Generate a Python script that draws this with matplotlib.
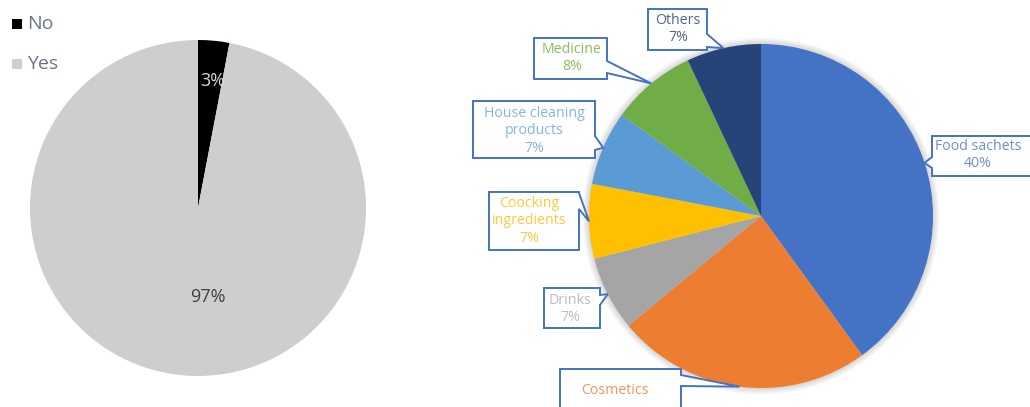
import matplotlib
matplotlib.use('Agg')
import matplotlib.pyplot as plt
from matplotlib.patches import Polygon, Rectangle, Circle
import numpy as np

plt.rcParams['font.family'] = ['Open Sans', 'DejaVu Sans']

# ---- data ----
answers = ['No', 'Yes']
answer_pct = [3, 97]
answer_colors = ['#000000', '#d0cecd']

uses = ['Food sachets', 'Cosmetics', 'Drinks', 'Coocking\ningredients',
        'House cleaning\nproducts', 'Medicine', 'Others']
use_pct = [40, 24, 7, 7, 7, 8, 7]
use_colors = ['#4472C4', '#ED7D31', '#A5A5A5', '#FFC000', '#5B9BD5', '#70AD47', '#264478']
use_text_colors = ['#6f8fcc', '#f0965a', '#bdbdbd', '#ffc93a', '#84b4e2', '#8cbd5e', '#52638f']

W, H = 1030, 407
fig = plt.figure(figsize=(W / 100, H / 100), dpi=100)
ax = fig.add_axes([0, 0, 1, 1])


def P(x, y):
    return (x, H - y)


# ---- left pie ----
c1 = P(198, 208)
r1 = 168
ax.pie(answer_pct, colors=answer_colors, startangle=90, counterclock=False,
       center=c1, radius=r1, frame=True, wedgeprops=dict(linewidth=0))
ax.text(*P(213, 81), f"{answer_pct[0]}%", color='#d9d9d9', fontsize=13,
        ha='center', va='center')
ax.text(*P(208, 297), f"{answer_pct[1]}%", color='#404040', fontsize=13,
        ha='center', va='center')

# legend
for i, (lab, col) in enumerate(zip(answers, answer_colors)):
    yc = 24 + 40 * i
    ax.add_patch(Rectangle(P(12, yc + 5), 10, 10, facecolor=col, edgecolor='none'))
    ax.text(*P(27, yc), lab, color='#6b7489', fontsize=14, ha='left', va='center')

# ---- right pie ----
c2 = P(761, 216)
r2 = 172
for i in range(7):
    ax.add_patch(Circle(c2, r2 + 0.5 + i * 1.0, facecolor='#000000', alpha=0.025,
                        edgecolor='none', zorder=0))
wedges, _ = ax.pie(use_pct, colors=use_colors, startangle=90, counterclock=False,
                   center=c2, radius=r2, frame=True, wedgeprops=dict(linewidth=0))

# callout layout: box (x0,y0,x1,y1), side, base (ya,yb), text center
layout = {
    'Food sachets': ((932, 136, 1034, 176), 'left', (157, 168), (978, 155)),
    'Cosmetics': ((560, 369, 681, 432), 'right', (375, 386), (615, 390)),
    'Drinks': ((544, 288, 600, 328), 'right', (295, 305), (570, 309)),
    'Coocking\ningredients': ((489, 192, 579, 250), 'right', (193, 209), (529, 221)),
    'House cleaning\nproducts': ((473, 101, 595, 158), 'right', (136, 150), (534, 131)),
    'Medicine': ((534, 38, 607, 79), 'right', (61, 73), (572, 58)),
    'Others': ((648, 9, 707, 50), 'right', (34, 47), (678, 29)),
}
# the bottom callout is cut by the figure edge, only its first line is visible
cut_off = {'Cosmetics'}

total = sum(use_pct)
cum = 0
for name, pct, tcol in zip(uses, use_pct, use_text_colors):
    mid = (cum + pct / 2) / total * 360
    cum += pct
    th = np.deg2rad(mid)
    tip = (c2[0] + r2 * np.sin(th), c2[1] + r2 * np.cos(th))
    (x0, y0, x1, y1), side, (ya, yb), tc = layout[name]
    if side == 'right':
        pts = [P(x0, y0), P(x1, y0), P(x1, ya), tip, P(x1, yb), P(x1, y1), P(x0, y1)]
    else:
        pts = [P(x0, y0), P(x1, y0), P(x1, y1), P(x0, y1), P(x0, yb), tip, P(x0, ya)]
    ax.add_patch(Polygon(pts, closed=True, facecolor='white', edgecolor='#4472C4',
                         linewidth=1.4, zorder=5, joinstyle='miter'))
    label = name if name in cut_off else f"{name}\n{pct}%"
    ax.text(*P(*tc), label, color=tcol, fontsize=10.2, ha='center',
            va='center', linespacing=1.25, zorder=6)

ax.set_xlim(0, W)
ax.set_ylim(0, H)
ax.set_aspect('auto')
ax.axis('off')

fig.savefig('out.png', dpi=100)
